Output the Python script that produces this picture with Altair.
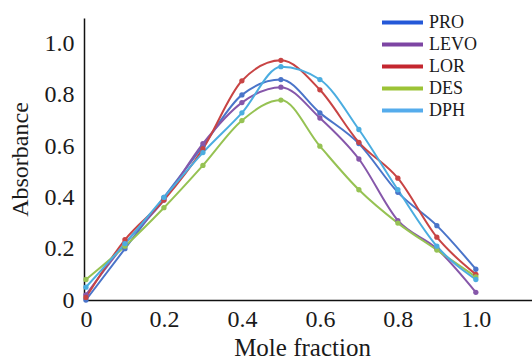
import altair as alt
import pandas as pd

mole_fraction = [0.0, 0.1, 0.2, 0.3, 0.4, 0.5, 0.6, 0.7, 0.8, 0.9, 1.0]
series_names = ["PRO", "LEVO", "LOR", "DES", "DPH"]
pro = [0.00, 0.20, 0.40, 0.60, 0.80, 0.86, 0.73, 0.61, 0.42, 0.29, 0.12]
levo = [0.02, 0.22, 0.39, 0.61, 0.77, 0.83, 0.71, 0.55, 0.31, 0.20, 0.03]
lor = [0.01, 0.235, 0.39, 0.59, 0.855, 0.935, 0.82, 0.615, 0.475, 0.245, 0.10]
des = [0.08, 0.21, 0.36, 0.525, 0.70, 0.78, 0.60, 0.43, 0.30, 0.195, 0.09]
dph = [0.05, 0.22, 0.40, 0.575, 0.73, 0.91, 0.86, 0.665, 0.43, 0.21, 0.08]
y_ticks = [0.0, 0.2, 0.4, 0.6, 0.8, 1.0]
x_ticks = [0.0, 0.2, 0.4, 0.6, 0.8, 1.0]

line_colors = ["#4a74c9", "#8657aa", "#c84444", "#96c253", "#4bade0"]
legend_colors = ["#2458d8", "#7d45a3", "#c4262f", "#9cc336", "#55acec"]

rows = []
for name, vals in zip(series_names, [pro, levo, lor, des, dph]):
    for xv, yv in zip(mole_fraction, vals):
        rows.append({"series": name, "x": xv, "y": yv})
df = pd.DataFrame(rows)

FONT = "Liberation Serif"
label_expr = "datum.value == 0 ? '0' : format(datum.value, '.1f')"

x_enc = alt.X(
    "x:Q",
    scale=alt.Scale(domain=[-0.005, 1.144], nice=False),
    axis=alt.Axis(
        values=x_ticks, labelExpr=label_expr, title="Mole fraction",
        grid=False, ticks=False, domainColor="#111", domainWidth=1.5,
        labelFont=FONT, labelFontSize=24, labelColor="#1a1a1a", labelPadding=7,
        titleFont=FONT, titleFontSize=25, titleFontWeight="normal", titleColor="#1a1a1a",
        titlePadding=4, titleX=218, labelFlush=False,
    ),
)
y_enc = alt.Y(
    "y:Q",
    scale=alt.Scale(domain=[0, 1.1], nice=False),
    axis=alt.Axis(
        values=y_ticks, labelExpr=label_expr, title="Absorbance",
        grid=False, ticks=False, domainColor="#111", domainWidth=1.5,
        labelFont=FONT, labelFontSize=24, labelColor="#1a1a1a", labelPadding=10,
        titleFont=FONT, titleFontSize=24, titleFontWeight="normal", titleColor="#1a1a1a",
        titlePadding=12, labelFlush=False,
    ),
)

lines = alt.Chart(df).mark_line(
    interpolate="monotone", strokeWidth=2,
    point=alt.OverlayMarkDef(size=28, filled=True, opacity=1),
).encode(
    x=x_enc, y=y_enc,
    color=alt.Color("series:N", scale=alt.Scale(domain=series_names, range=line_colors), legend=None),
    detail="series:N",
)

legend_layer = alt.Chart(df).transform_filter("false").mark_line(strokeWidth=4).encode(
    x="x:Q", y="y:Q",
    color=alt.Color(
        "series:N",
        scale=alt.Scale(domain=series_names, range=legend_colors),
        legend=alt.Legend(
            title=None, orient="none", legendX=306, legendY=-8,
            symbolType="M-2,0L2,0", symbolSize=420, symbolStrokeWidth=4,
            labelFont=FONT, labelFontSize=18, labelColor="#1a1a1a",
            labelOffset=14, rowPadding=-1, padding=0,
        ),
    ),
)

chart = alt.layer(lines, legend_layer).resolve_scale(color="independent").properties(
    width=448, height=282,
    padding={"left": 84, "top": 18, "right": 0, "bottom": 60},
    autosize="none",
).configure(background="white", font=FONT).configure_view(stroke=None).configure_axis(
    labelFont=FONT, titleFont=FONT
).configure_legend(labelFont=FONT)

chart.save("out.html", embed_options={"renderer": "svg", "actions": False})
